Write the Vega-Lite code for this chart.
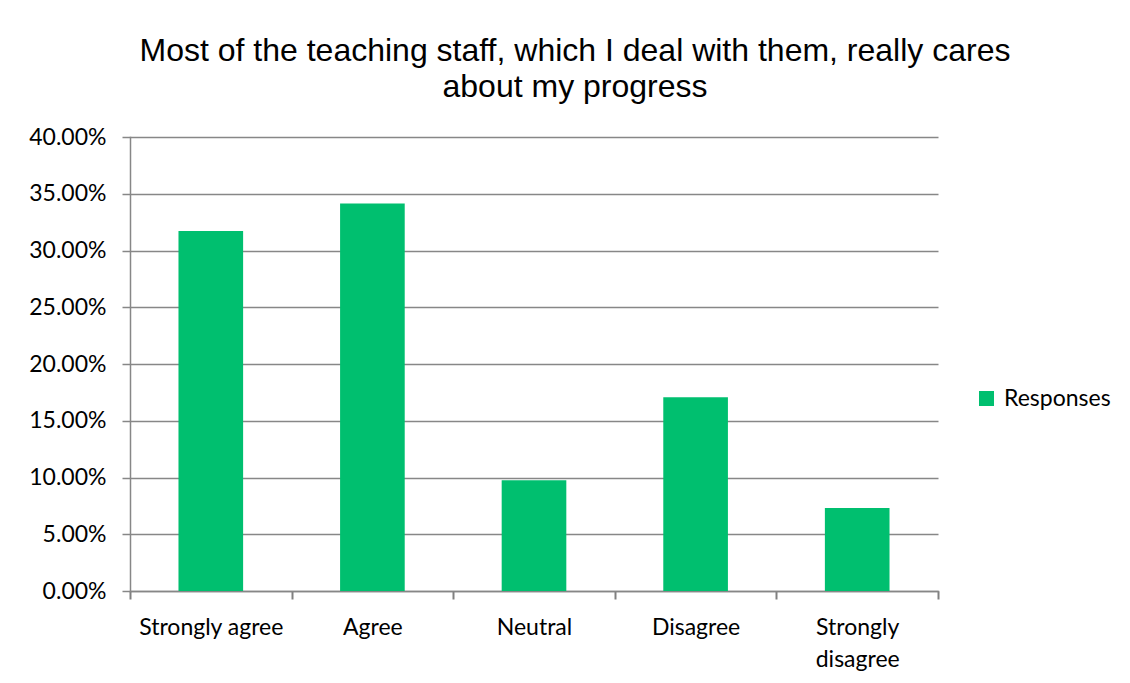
{
  "$schema": "https://vega.github.io/schema/vega-lite/v6.json",
  "autosize": {"type": "none"},
  "width": 808,
  "height": 454,
  "padding": {"left": 130, "top": 137, "right": 192, "bottom": 92},
  "background": "white",
  "title": {
    "text": ["Most of the teaching staff, which I deal with them, really cares", "about my progress"],
    "font": "Liberation Sans",
    "fontSize": 32,
    "fontWeight": "normal",
    "color": "#000000",
    "lineHeight": 36,
    "anchor": "middle",
    "frame": "group",
    "dx": 41,
    "offset": 22
  },
  "data": {
    "values": [
      {"response": "Strongly agree", "share": 0.3171, "series": "Responses"},
      {"response": "Agree", "share": 0.3415, "series": "Responses"},
      {"response": "Neutral", "share": 0.0976, "series": "Responses"},
      {"response": "Disagree", "share": 0.1707, "series": "Responses"},
      {"response": "Strongly disagree", "share": 0.0732, "series": "Responses"}
    ]
  },
  "mark": {"type": "bar", "width": {"band": 0.4}},
  "encoding": {
    "x": {
      "field": "response",
      "type": "nominal",
      "sort": null,
      "scale": {"paddingInner": 0, "paddingOuter": 0},
      "axis": {
        "title": null,
        "labelAngle": 0,
        "labelFont": "Lato",
        "labelFontSize": 23,
        "labelColor": "#000000",
        "labelPadding": 17,
        "labelLineHeight": 32,
        "labelExpr": "datum.label == 'Strongly disagree' ? ['Strongly', 'disagree'] : datum.label",
        "tickBand": "extent",
        "ticks": true,
        "tickSize": 8,
        "tickColor": "#808080",
        "tickWidth": 2,
        "domainColor": "#878787",
        "domainWidth": 1.5,
        "grid": false
      }
    },
    "y": {
      "field": "share",
      "type": "quantitative",
      "scale": {"domain": [0, 0.4]},
      "axis": {
        "title": null,
        "values": [0, 0.05, 0.1, 0.15, 0.2, 0.25, 0.3, 0.35, 0.4],
        "format": ".2%",
        "labelFont": "Lato",
        "labelFontSize": 23,
        "labelColor": "#000000",
        "labelPadding": 16,
        "tickSize": 8,
        "tickColor": "#878787",
        "tickWidth": 1.5,
        "domainColor": "#878787",
        "domainWidth": 1.5,
        "grid": true,
        "gridColor": "#878787",
        "gridWidth": 1.5
      }
    },
    "color": {
      "field": "series",
      "type": "nominal",
      "scale": {"range": ["#00BF6F"]},
      "legend": {
        "title": null,
        "orient": "none",
        "legendX": 845,
        "legendY": 250,
        "padding": 0,
        "symbolType": "square",
        "symbolSize": 225,
        "symbolStrokeWidth": 0,
        "symbolOpacity": 1,
        "labelFont": "Lato",
        "labelFontSize": 23,
        "labelColor": "#000000",
        "labelOffset": 6
      }
    }
  },
  "config": {
    "view": {"stroke": null},
    "axis": {"domainCap": "square"}
  }
}
